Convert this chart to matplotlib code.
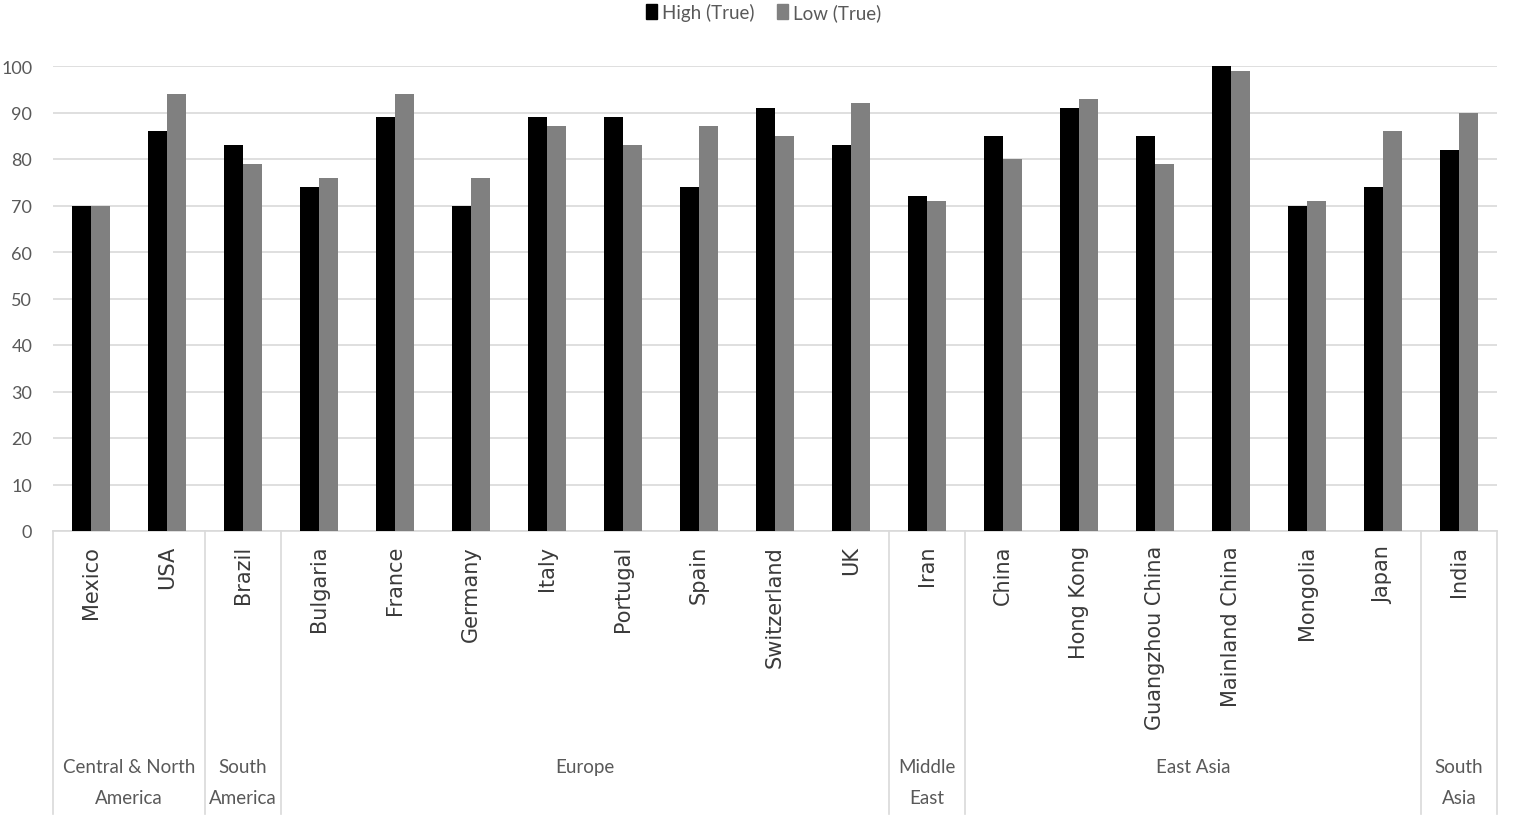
import matplotlib
matplotlib.use("Agg")
import matplotlib.pyplot as plt
from matplotlib.transforms import blended_transform_factory
from matplotlib.lines import Line2D
from matplotlib.patches import Patch
import numpy as np

countries = ["Mexico", "USA", "Brazil", "Bulgaria", "France", "Germany", "Italy",
             "Portugal", "Spain", "Switzerland", "UK", "Iran", "China", "Hong Kong",
             "Guangzhou China", "Mainland China", "Mongolia", "Japan", "India"]
high_true = [70, 86, 83, 74, 89, 70, 89, 89, 74, 91, 83, 72, 85, 91, 85, 100, 70, 74, 82]
low_true = [70, 94, 79, 76, 94, 76, 87, 83, 87, 85, 92, 71, 80, 93, 79, 99, 71, 86, 90]
regions = ["Central & North\nAmerica", "South\nAmerica", "Europe", "Middle\nEast",
           "East Asia", "South\nAsia"]
region_sizes = [2, 1, 8, 1, 6, 1]
yticks = [0, 10, 20, 30, 40, 50, 60, 70, 80, 90, 100]

W, H = 1517, 829
fig = plt.figure(figsize=(W / 100, H / 100), dpi=100)
narrow = ["Lato", "DejaVu Sans"]
txtcol = "#595959"

left, right, bottom, top = 53, 1497, 532, 67
ax = fig.add_axes([left / W, 1 - bottom / H, (right - left) / W, (bottom - top) / H])

x = np.arange(len(countries))
bw = 0.25
ax.bar(x - bw / 2, high_true, width=bw, color="#000000", label="High (True)", zorder=3)
ax.bar(x + bw / 2, low_true, width=bw, color="#808080", label="Low (True)", zorder=3)

ax.set_xlim(-0.5, len(countries) - 0.5)
ax.set_ylim(0, 100)
ax.set_yticks(yticks)
ax.set_yticklabels([str(t) for t in yticks], fontsize=13, color=txtcol, family=narrow)
ax.tick_params(axis="y", length=0, pad=15)
ax.set_xticks([])
ax.grid(axis="y", color="#d9d9d9", linewidth=1.2, zorder=0)
for s in ["top", "right", "left"]:
    ax.spines[s].set_visible(False)
ax.spines["bottom"].set_color("#d9d9d9")
ax.spines["bottom"].set_linewidth(1.2)

tr = blended_transform_factory(ax.transData, fig.transFigure)

# country labels
for i, c in enumerate(countries):
    ax.text(i, 1 - 546 / H, c, transform=tr, rotation=90, ha="center", va="top",
            fontsize=15, color="#3a3a3a", family="DejaVu Sans")

# group separators and labels
edges = [-0.5]
for n in region_sizes:
    edges.append(edges[-1] + n)
for e in edges:
    ax.add_line(Line2D([e, e], [1 - bottom / H, 1 - 815 / H], transform=tr,
                       color="#d9d9d9", linewidth=1.2, clip_on=False))
for r, a, b in zip(regions, edges[:-1], edges[1:]):
    ax.text((a + b) / 2, 1 - 759 / H, r, transform=tr, ha="center", va="top",
            fontsize=13.5, color=txtcol, family=narrow, linespacing=2.0)

# legend
handles = [Patch(color="#000000"), Patch(color="#808080")]
fig.legend(handles, ["High (True)", "Low (True)"], loc="center",
           bbox_to_anchor=(764 / W, 1 - 13 / H), ncol=2, frameon=False,
           prop={"family": narrow, "size": 13.5}, labelcolor=txtcol,
           handlelength=0.55, handleheight=0.9, handletextpad=0.3, columnspacing=1.2)

fig.savefig("out.png", dpi=100, facecolor="white")
